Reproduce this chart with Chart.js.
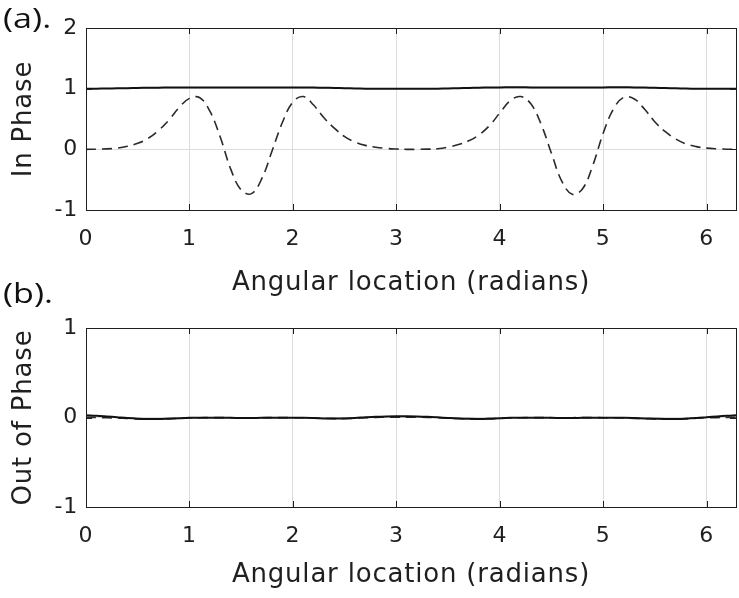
<!DOCTYPE html>
<html>
<head>
<meta charset="utf-8">
<script src="https://cdn.jsdelivr.net/npm/chart.js@4.4.1/dist/chart.umd.min.js"></script>
<style>
  body { margin: 0; background: #fff; }
  #wrap { position: relative; width: 739px; height: 598px; overflow: hidden; }
  canvas { position: absolute; left: 0; }
  #cA { top: 0; }
  #cB { top: 300px; }
  .panel {
    position: absolute; left: 3px; font-family: "Open Sans", sans-serif;
    font-size: 28px; line-height: 28px; color: #111;
    transform: scaleX(1.22); transform-origin: left top;
  }
</style>
</head>
<body>
<div id="wrap">
  <canvas id="cA" width="739" height="305"></canvas>
  <canvas id="cB" width="739" height="298"></canvas>
  <div class="panel" style="top:3px">(a).</div>
  <div class="panel" style="top:278px">(b).</div>
</div>
<script>
// angular location (radians)
const angle = [0, 0.1, 0.2, 0.3, 0.4, 0.5, 0.6, 0.7, 0.8, 0.9,
  1.0, 1.1, 1.2, 1.3, 1.4, 1.5, 1.6, 1.7, 1.8, 1.9,
  2.0, 2.1, 2.2, 2.3, 2.4, 2.5, 2.6, 2.7, 2.8, 2.9,
  3.0, 3.1, 3.2, 3.3, 3.4, 3.5, 3.6, 3.7, 3.8, 3.9,
  4.0, 4.1, 4.2, 4.3, 4.4, 4.5, 4.6, 4.7, 4.8, 4.9,
  5.0, 5.1, 5.2, 5.3, 5.4, 5.5, 5.6, 5.7, 5.8, 5.9,
  6.0, 6.1, 6.2, 6.283];

// (a) in phase
const inPhaseSolid = [1.0, 1.0, 1.002, 1.005, 1.008, 1.012, 1.015, 1.017, 1.019, 1.02,
  1.02, 1.02, 1.02, 1.019, 1.018, 1.018, 1.018, 1.019, 1.02, 1.021,
  1.021, 1.02, 1.018, 1.015, 1.011, 1.007, 1.003, 1.0, 0.998, 0.997,
  0.997, 0.997, 0.997, 0.998, 1.0, 1.004, 1.008, 1.012, 1.016, 1.019,
  1.021, 1.022, 1.022, 1.021, 1.02, 1.019, 1.018, 1.018, 1.019, 1.02,
  1.021, 1.022, 1.022, 1.021, 1.018, 1.015, 1.01, 1.006, 1.002, 0.999,
  0.997, 0.997, 0.998, 0.998];
const inPhaseDashed = [0, 0.002, 0.008, 0.02, 0.05, 0.10, 0.18, 0.31, 0.48, 0.69,
  0.84, 0.85, 0.62, 0.19, -0.33, -0.67, -0.73, -0.48, -0.02, 0.45,
  0.78, 0.87, 0.73, 0.52, 0.35, 0.21, 0.12, 0.065, 0.035, 0.015,
  0.005, 0, 0, 0.003, 0.01, 0.035, 0.08, 0.14, 0.24, 0.39,
  0.60, 0.80, 0.87, 0.75, 0.41, -0.07, -0.53, -0.74, -0.65, -0.26,
  0.27, 0.67, 0.86, 0.83, 0.66, 0.45, 0.29, 0.17, 0.09, 0.045,
  0.02, 0.008, 0.002, 0];

// (b) out of phase
const outPhaseSolid = [0.025, 0.02, 0.012, 0.003, -0.006, -0.013, -0.017, -0.017, -0.013, -0.008,
  -0.004, -0.002, -0.002, -0.003, -0.004, -0.005, -0.005, -0.004, -0.003, -0.002,
  -0.002, -0.003, -0.006, -0.01, -0.012, -0.01, -0.005, 0.002, 0.008, 0.012,
  0.014, 0.014, 0.012, 0.008, 0.002, -0.005, -0.011, -0.015, -0.016, -0.013,
  -0.008, -0.004, -0.002, -0.002, -0.003, -0.004, -0.005, -0.005, -0.004, -0.003,
  -0.002, -0.002, -0.003, -0.006, -0.01, -0.014, -0.017, -0.017, -0.013, -0.006,
  0.003, 0.012, 0.02, 0.025];
const outPhaseDashed = [0.002, 0.0, -0.003, -0.007, -0.011, -0.015, -0.017, -0.017, -0.013, -0.008,
  -0.004, -0.002, -0.001, -0.001, -0.002, -0.002, -0.002, -0.002, -0.001, -0.001,
  -0.002, -0.003, -0.006, -0.01, -0.013, -0.012, -0.008, -0.003, 0.001, 0.003,
  0.004, 0.004, 0.003, 0.001, -0.003, -0.008, -0.012, -0.015, -0.016, -0.013,
  -0.008, -0.004, -0.002, -0.001, -0.001, -0.002, -0.002, -0.002, -0.001, -0.001,
  -0.002, -0.003, -0.006, -0.01, -0.013, -0.016, -0.017, -0.017, -0.013, -0.008,
  -0.004, -0.001, 0.001, 0.002];

const xTicks = [0, 1, 2, 3, 4, 5, 6];
const inPhaseTicks = [-1, 0, 1, 2];
const outPhaseTicks = [-1, 0, 1];

const ink = "#1f1f1f";
const font = "'DejaVu Sans', sans-serif";

// wider lettering like the original figure
const spacing = {
    id: "spacing",
    beforeLayout(chart) { chart.ctx.letterSpacing = "0.8px"; },
    beforeDraw(chart) { chart.ctx.letterSpacing = "0.8px"; }
};

// box around the axes with inward tick marks
const frame = {
    id: "frame",
    afterDraw(chart) {
        const { ctx, chartArea: a, scales } = chart;
        ctx.save();
        ctx.strokeStyle = ink;
        ctx.lineWidth = 1;
        ctx.beginPath();
        scales.x.ticks.forEach(t => {
            const px = Math.round(scales.x.getPixelForValue(t.value)) + 0.5;
            ctx.moveTo(px, a.bottom); ctx.lineTo(px, a.bottom - 6);
            ctx.moveTo(px, a.top); ctx.lineTo(px, a.top + 6);
        });
        scales.y.ticks.forEach(t => {
            const py = Math.round(scales.y.getPixelForValue(t.value)) + 0.5;
            ctx.moveTo(a.left, py); ctx.lineTo(a.left + 6, py);
            ctx.moveTo(a.right, py); ctx.lineTo(a.right - 6, py);
        });
        ctx.stroke();
        ctx.strokeRect(Math.round(a.left) + 0.5, Math.round(a.top) + 0.5,
            Math.round(a.right - a.left), Math.round(a.bottom - a.top));
        ctx.restore();
    }
};

function points(ys) {
    return angle.map((x, i) => ({ x: x, y: ys[i] }));
}

function makeChart(id, solid, dashed, yTicks, yTitle, pad, xHeight, titlePad) {
    new Chart(document.getElementById(id), {
        type: "scatter",
        data: {
            datasets: [
                {
                    data: points(solid),
                    showLine: true,
                    borderColor: "#111",
                    borderWidth: 2,
                    pointRadius: 0,
                    tension: 0.4,
                },
                {
                    data: points(dashed),
                    showLine: true,
                    borderColor: "#2a2a2a",
                    borderWidth: 1.6,
                    borderDash: [10, 6],
                    pointRadius: 0,
                    tension: 0.4,
                },
            ],
        },
        options: {
            responsive: false,
            animation: false,
            layout: { padding: { top: pad, right: 3, left: 0, bottom: 0 } },
            plugins: { legend: { display: false }, tooltip: { enabled: false } },
            scales: {
                x: {
                    type: "linear",
                    min: 0,
                    max: 6.283,
                    afterBuildTicks: s => { s.ticks = xTicks.map(v => ({ value: v })); },
                    afterFit: s => { s.height = xHeight; },
                    grid: { color: "#dcdcdc", drawTicks: false },
                    border: { display: false },
                    ticks: { color: ink, font: { family: font, size: 22 }, padding: 16, maxRotation: 0 },
                    title: {
                        display: true,
                        text: "Angular location (radians)",
                        color: ink,
                        font: { family: font, size: 26 },
                        padding: { top: 0, bottom: titlePad },
                    },
                },
                y: {
                    min: yTicks[0],
                    max: yTicks[yTicks.length - 1],
                    afterBuildTicks: s => { s.ticks = yTicks.map(v => ({ value: v })); },
                    afterFit: s => { s.width = 86; },
                    grid: { color: "#dcdcdc", drawTicks: false },
                    border: { display: false },
                    ticks: { color: ink, font: { family: font, size: 22 }, padding: 8 },
                    title: {
                        display: true,
                        text: yTitle,
                        color: ink,
                        font: { family: font, size: 26 },
                        padding: { top: 9, bottom: 0 },
                    },
                },
            },
        },
        plugins: [spacing, frame],
    });
}

makeChart("cA", inPhaseSolid, inPhaseDashed, inPhaseTicks, "In Phase", 28, 95, 6);
makeChart("cB", outPhaseSolid, outPhaseDashed, outPhaseTicks, "Out of Phase", 28, 91, 7);
</script>
</body>
</html>
